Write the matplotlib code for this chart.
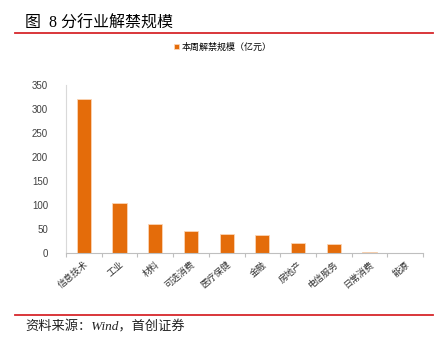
import numpy as np
import matplotlib.pyplot as plt
from matplotlib.lines import Line2D

plt.rcParams['font.family'] = ['Noto Sans CJK SC', 'DejaVu Sans']

# data
industries = ['信息技术', '工业', '材料', '可选消费', '医疗保健', '金融',
              '房地产', '电信服务', '日常消费', '能源']
unlock_value = [320, 105, 60, 45, 39, 37, 21, 18, 1.5, 0]
yticks = [0, 50, 100, 150, 200, 250, 300, 350]

W, H = 446, 349
fig = plt.figure(figsize=(W / 100, H / 100), dpi=100)

# header / footer decorations
fig.text(25 / W, 1 - 24 / H, '图  8 分行业解禁规模', fontsize=11.5, va='center', ha='left',
         family=['Liberation Serif', 'Noto Sans CJK SC'])
fig.add_artist(Line2D([15 / W, 433 / W], [1 - 33 / H] * 2, color='#d7262b', lw=1.3))
fig.add_artist(Line2D([15 / W, 433 / W], [1 - 315 / H] * 2, color='#d7262b', lw=1.3))
fig.text(25 / W, 1 - 327 / H, '资料来源：Wind，首创证券', fontsize=9.5, style='italic',
         va='center', ha='left', color='#222222',
         family=['Liberation Serif', 'Noto Sans CJK SC'])

ax = fig.add_axes([66 / W, 1 - 253 / H, (423 - 66) / W, (253 - 85) / H])
x = np.arange(len(industries))
ax.bar(x, unlock_value, width=0.4, color='#e46c0a', edgecolor='#fbd5b5', linewidth=0.6,
       label='本周解禁规模（亿元）')

ax.set_xlim(-0.5, len(industries) - 0.5)
ax.set_ylim(0, 350)
ax.set_yticks(yticks)
ax.set_yticklabels([str(v) for v in yticks], family='Liberation Sans')
ax.tick_params(axis='y', length=0, labelsize=7, colors='#404040', pad=13)
ax.set_xticks(np.arange(len(industries) + 1) - 0.5, minor=False)
ax.set_xticklabels([])
ax.set_xticks(x, minor=True)
ax.set_xticklabels(industries, minor=True, rotation=40, ha='right', rotation_mode='anchor',
                   fontsize=6.5, color='#333333')
ax.tick_params(axis='x', which='major', length=3, color='#bfbfbf')
ax.tick_params(axis='x', which='minor', length=0, pad=5)
for s in ['top', 'right']:
    ax.spines[s].set_visible(False)
ax.spines['left'].set_color('#d9d9d9')
ax.spines['bottom'].set_color('#bfbfbf')

fig.legend(loc='center', bbox_to_anchor=(223 / W, 1 - 47 / H), frameon=False, fontsize=6.5,
           handlelength=0.5, handleheight=0.5, handletextpad=0.3)

fig.savefig('out.png', dpi=100)
